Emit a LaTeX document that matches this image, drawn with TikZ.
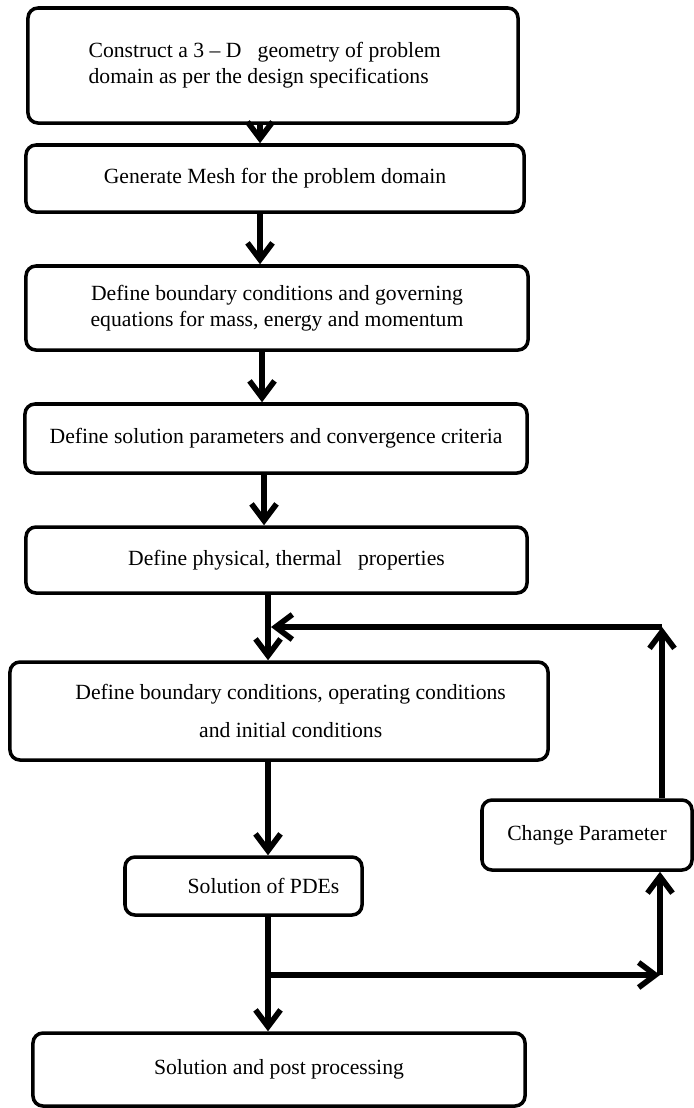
\documentclass[tikz,border=0pt]{standalone}
\usepackage{fontspec}
\setmainfont{Liberation Serif}
\usetikzlibrary{arrows.meta}
\tikzset{
	flowbox/.style={draw, line width=3pt, rounded corners=3mm, inner sep=0pt, align=center, font=\fontsize{18.5}{22}\selectfont},
	flowarrow/.style={line width=4.8pt, -{Straight Barb[length=5mm, width=7.5mm, line width=4.8pt]}},
}

\begin{document}
\begin{tikzpicture}[x=0.03cm, y=-0.03cm]
		%%%%% START %%%%%
		\useasboundingbox (0, 0) rectangle (694, 1108);
		
		\node[flowbox, minimum width=14.7cm, minimum height=3.45cm, align=left] (geom) at (273, 65.5) {\hspace*{-5mm}Construct a 3 -- D\ \ \ geometry of problem\\\hspace*{-5mm}domain as per the design specifications};
		\node[flowbox, minimum width=14.94cm, minimum height=2.01cm] (mesh) at (275, 178.5) {Generate Mesh for the problem domain};
		\node[flowbox, minimum width=15.06cm, minimum height=2.52cm] (govern) at (277, 308) {Define boundary conditions and governing\\equations for mass, energy and momentum};
		\node[flowbox, minimum width=15.06cm, minimum height=2.07cm] (solpar) at (276, 438.5) {Define solution parameters and convergence criteria};
		\node[flowbox, minimum width=15.03cm, minimum height=1.98cm] (props) at (276.5, 560) {\hspace*{6mm}Define physical, thermal\ \ \ properties};
		\node[flowbox, minimum width=16.14cm, minimum height=2.94cm] (bcs) at (279, 711) {\hspace*{7mm}Define boundary conditions, operating conditions\\[11pt]\hspace*{7mm}and initial conditions};
		\node[flowbox, minimum width=7.11cm, minimum height=1.74cm] (pde) at (243.5, 886) {\hspace*{12mm}Solution of PDEs};
		\node[flowbox, minimum width=14.76cm, minimum height=2.19cm] (post) at (279, 1069.5) {Solution and post processing};
		\node[flowbox, minimum width=6.3cm, minimum height=2.1cm] (change) at (587, 835) {\raisebox{1.5mm}{Change Parameter}};
		
		\coordinate (top) at (662, 627);
		\coordinate (fork) at (268, 975);
		\coordinate (turn) at (660, 975);
		
		\draw[flowarrow] (geom.south -| 260,0) -- (mesh.north -| 260,0);
		\draw[flowarrow] (mesh.south -| 260,0) -- (govern.north -| 260,0);
		\draw[flowarrow] (govern.south -| 262,0) -- (solpar.north -| 262,0);
		\draw[flowarrow] (solpar.south -| 264,0) -- (props.north -| 264,0);
		\draw[flowarrow] (props.south -| 268,0) -- (bcs.north -| 268,0);
		\draw[flowarrow] (bcs.south -| 268,0) -- (pde.north -| 268,0);
		\draw[flowarrow] (pde.south -| fork) -- (post.north -| fork);
		
		\draw[flowarrow] (fork) -- (turn);
		\draw[flowarrow] (turn) -- (change.south -| turn);
		\draw[flowarrow] (change.north -| top) -- (top);
		\draw[flowarrow] (top) -- (top -| 271,0);
		
		%%%%% END %%%%%
\end{tikzpicture}
\end{document}
